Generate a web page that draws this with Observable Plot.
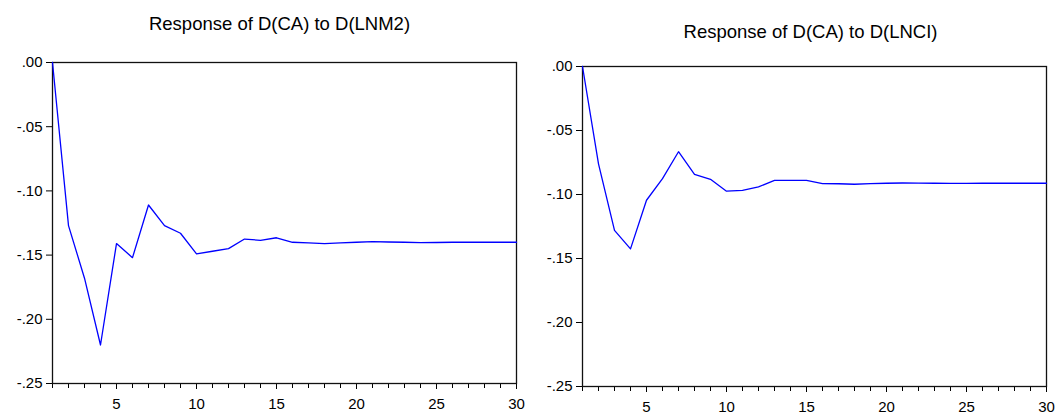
<!DOCTYPE html>
<html>
<head>
<meta charset="utf-8">
<script src="https://cdn.jsdelivr.net/npm/d3@7"></script>
<script src="https://cdn.jsdelivr.net/npm/@observablehq/plot@0.6"></script>
<style>
  html, body { margin: 0; padding: 0; background: #fff; }
  #wrap { position: relative; width: 1056px; height: 414px; overflow: hidden; }
  #left, #right { position: absolute; top: 0; width: 528px; height: 414px; }
  #left { left: 0; }
  #right { left: 528px; }
</style>
</head>
<body>
<div id="wrap"><div id="left"></div><div id="right"></div></div>
<script>
const periods = [1,2,3,4,5,6,7,8,9,10,11,12,13,14,15,16,17,18,19,20,21,22,23,24,25,26,27,28,29,30];
const respLNM2 = [0, -0.127, -0.168, -0.220, -0.141, -0.152, -0.111, -0.127, -0.133, -0.149,
  -0.147, -0.145, -0.1375, -0.1385, -0.1365, -0.140, -0.1405, -0.141, -0.1405, -0.140,
  -0.1395, -0.1398, -0.140, -0.1403, -0.1402, -0.140, -0.140, -0.140, -0.140, -0.140];
const respLNCI = [0, -0.076, -0.128, -0.1425, -0.1045, -0.0876, -0.0666, -0.0842, -0.0881, -0.0974,
  -0.0967, -0.0941, -0.0889, -0.0889, -0.0889, -0.0915, -0.0916, -0.092, -0.0915, -0.0912,
  -0.091, -0.0911, -0.0912, -0.0913, -0.0913, -0.0912, -0.0912, -0.0912, -0.0912, -0.0912];
const yTicks = [0, -0.05, -0.10, -0.15, -0.20, -0.25];
const xLabelTicks = [5, 10, 15, 20, 25, 30];
const titles = ["Response of D(CA) to D(LNM2)", "Response of D(CA) to D(LNCI)"];

const fmtY = d => (d < 0 ? "-" : "") + Math.abs(d).toFixed(2).replace(/^0\./, ".");

function panel(values, title, m, tdx, tdy) {
  const data = periods.map((p, i) => ({p, v: values[i]}));
  return Plot.plot({
    width: 528,
    height: 414,
    marginLeft: m.l, marginRight: m.r, marginTop: m.t, marginBottom: m.b,
    style: {fontFamily: "Liberation Sans, Arial, sans-serif", fontSize: "15px", color: "black", background: "white", overflow: "visible"},
    x: {domain: [1, 30]},
    y: {domain: [-0.25, 0]},
    marks: [
      Plot.axisY({ticks: yTicks, tickFormat: fmtY, tickSize: 6, tickPadding: 4, label: null, fontSize: 15}),
      Plot.axisX({ticks: periods, tickSize: 5, tickFormat: () => "", label: null}),
      Plot.axisX({ticks: xLabelTicks, tickSize: 6, tickPadding: 9, tickFormat: d => String(d), label: null, fontSize: 15}),
      Plot.frame({stroke: "#111", strokeWidth: 1.3}),
      Plot.line(data, {x: "p", y: "v", stroke: "#0000ff", strokeWidth: 1.3}),
      Plot.text([title], {text: d => d, frameAnchor: "top", lineAnchor: "bottom", dx: tdx, dy: tdy, fontSize: 18.5})
    ]
  });
}

document.getElementById("left").appendChild(panel(respLNM2, titles[0], {l: 52, r: 12, t: 62, b: 31}, -5, -33));
document.getElementById("right").appendChild(panel(respLNCI, titles[1], {l: 54, r: 10, t: 66, b: 28}, -4, -29));
</script>
</body>
</html>
